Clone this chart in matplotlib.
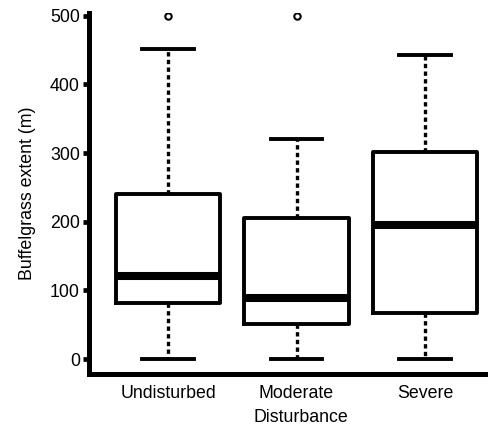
import matplotlib.pyplot as plt

# Box summary values
categories = ["Undisturbed", "Moderate", "Severe"]
whisker_low = [0, 0, 0]
q1 = [82, 51, 67]
medians = [121, 89, 196]
q3 = [240, 205, 301]
whisker_high = [451, 321, 442]
outliers = [[500], [500], []]
y_ticks = [0, 100, 200, 300, 400, 500]

plt.rcParams['font.family'] = ['Liberation Sans', 'DejaVu Sans']
fs = 12.8

fig = plt.figure(figsize=(4.89, 4.28), dpi=100)
ax = fig.add_axes([0.182, 0.127, 0.818, 0.843])

stats = []
for i, name in enumerate(categories):
    stats.append({
        'label': name,
        'whislo': whisker_low[i],
        'q1': q1[i],
        'med': medians[i],
        'q3': q3[i],
        'whishi': whisker_high[i],
        'fliers': outliers[i],
    })

ax.bxp(
    stats,
    positions=[1, 2, 3],
    widths=0.81,
    capwidths=0.4,
    showfliers=True,
    boxprops=dict(color='black', linewidth=2.8),
    medianprops=dict(color='black', linewidth=5.8, solid_capstyle='butt'),
    whiskerprops=dict(color='black', linewidth=2.4, linestyle=(0, (1.3, 1.0))),
    capprops=dict(color='black', linewidth=2.8),
    flierprops=dict(marker='o', markersize=4.6, markerfacecolor='white',
                    markeredgecolor='black', markeredgewidth=1.5),
)

ax.set_xlim(0.385, 3.498)
ax.set_ylim(-21, 504)
ax.set_yticks(y_ticks)
ax.set_xticks([1, 2, 3])
ax.set_xticklabels(categories)

for side in ['top', 'right']:
    ax.spines[side].set_visible(False)
for side in ['left', 'bottom']:
    ax.spines[side].set_linewidth(3.6)

ax.tick_params(axis='y', length=4, width=3.4, labelsize=fs, pad=2.5)
ax.tick_params(axis='x', length=0, labelsize=fs, pad=8)

ax.set_ylabel("Buffelgrass extent (m)", fontsize=fs, labelpad=10)
ax.set_xlabel("Disturbance", fontsize=fs)
ax.xaxis.set_label_coords(0.53, -0.098)

fig.savefig("out.png", dpi=100)
